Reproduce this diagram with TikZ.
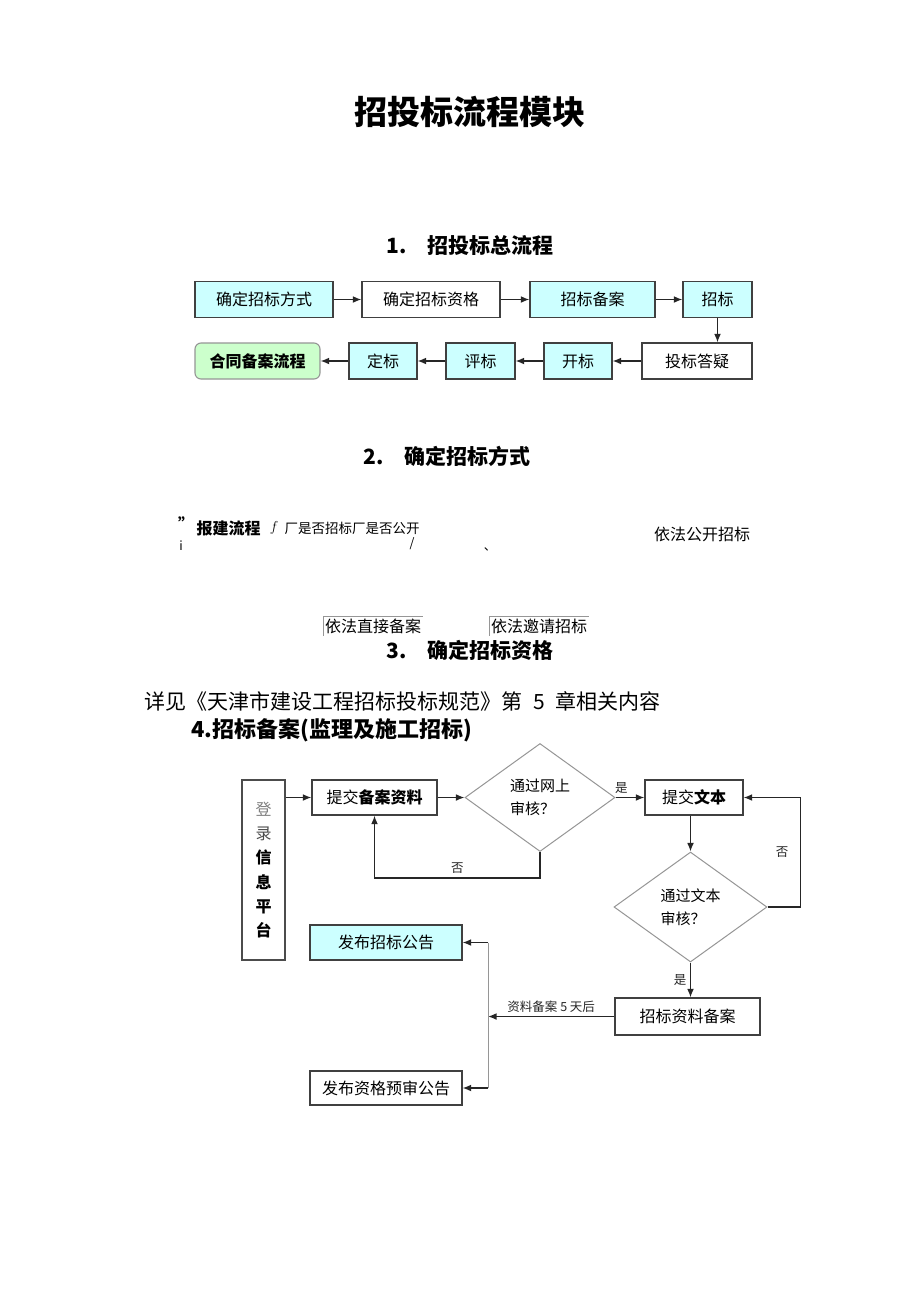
\documentclass[tikz,border=0pt]{standalone}
\usepackage{fontspec}
\setmainfont{Noto Sans CJK SC}
\usetikzlibrary{arrows.meta,positioning,shapes.geometric}
\definecolor{boxcyan}{RGB}{204,255,255}
\definecolor{boxgreen}{RGB}{204,255,204}
\definecolor{linegray}{RGB}{150,150,150}

\begin{document}
\begin{tikzpicture}[x=1pt,y=-1pt,
	box/.style={rectangle,draw=black!75,line width=1.1pt,minimum height=36pt,inner sep=0pt,font=\fontsize{16}{19}\selectfont},
	cyanbox/.style={box,fill=boxcyan},
	decision/.style={diamond,draw=linegray,line width=1pt,inner sep=0pt,align=left,font=\fontsize{15}{23}\selectfont},
	arr/.style={-{Latex[length=3mm,width=2.4mm]},line width=1.5pt,black!85},
	head/.style={font=\fontsize{21}{25}\selectfont\bfseries},
	small/.style={font=\fontsize{12.5}{14}\selectfont}]
	\fill[white] (0,0) rectangle (920,1302);
	\useasboundingbox (0,0) rectangle (920,1302);

	\node[font=\fontsize{33}{38}\selectfont\bfseries] (title) at (470,112) {招投标流程模块};

	% 1. overall flow
	\node[head] (sec1) at (470,245) {1.\hspace{1em}招投标总流程};
	\begin{scope}[every node/.style={minimum height=37pt}]
		\node[cyanbox,minimum width=138pt] (fangshi) at (264,299.5) {确定招标方式};
		\node[box,minimum width=138pt] (zige) at (431,299.5) {确定招标资格};
		\node[cyanbox,minimum width=125pt] (beian) at (592.5,299.5) {招标备案};
		\node[cyanbox,minimum width=69pt] (zhaobiao) at (717.5,299.5) {招标};
	\end{scope}
	\begin{scope}[every node/.style={minimum height=35pt}]
		\node[box,rounded corners=6pt,fill=boxgreen,draw=linegray,minimum width=125pt,font=\fontsize{16}{19}\selectfont\bfseries] (hetong) at (257.5,361) {合同备案流程};
		\node[cyanbox,minimum width=68pt] (dingbiao) at (383,361) {定标};
		\node[cyanbox,minimum width=69pt] (pingbiao) at (480.5,361) {评标};
		\node[cyanbox,minimum width=68pt] (kaibiao) at (578,361) {开标};
		\node[box,minimum width=110pt] (dayi) at (697,361) {投标答疑};
	\end{scope}
	\draw[arr] (fangshi) -- (zige);
	\draw[arr] (zige) -- (beian);
	\draw[arr] (beian) -- (zhaobiao);
	\draw[arr] (zhaobiao.south) -- (zhaobiao.south |- dayi.north);
	\draw[arr] (dayi) -- (kaibiao);
	\draw[arr] (kaibiao) -- (pingbiao);
	\draw[arr] (pingbiao) -- (dingbiao);
	\draw[arr] (dingbiao) -- (hetong);

	% 2. bidding method
	\node[head] (sec2) at (447,456) {2.\hspace{1em}确定招标方式};
	\node[font=\fontsize{16}{18}\selectfont\bfseries] (quote) at (186,524) {”};
	\node[anchor=west,font=\fontsize{16}{18}\selectfont\bfseries] (baojian) at (193,528) {报建流程};
	\node[font=\fontsize{15}{18}\selectfont] (fmark) at (274,528) {$f$};
	\node[anchor=west,font=\fontsize{13.5}{16}\selectfont] (shifou) at (281,528) {厂是否招标厂是否公开};
	\node[font=\fontsize{16}{18}\selectfont] (gongkai) at (702,534) {依法公开招标};
	\node[small] (mark1) at (181,546) {i};
	\node[small] (mark2) at (412,544) {/};
	\node[small] (mark3) at (490,549) {、};
	\node[anchor=west,inner sep=2pt,font=\fontsize{16}{18}\selectfont] (zhijie) at (323,626) {依法直接备案};
	\node[anchor=west,inner sep=2pt,font=\fontsize{16}{18}\selectfont] (yaoqing) at (489,626) {依法邀请招标};
	\draw[linegray] (zhijie.south west) |- (zhijie.north east);
	\draw[linegray] (yaoqing.south west) |- (yaoqing.north east);

	% 3. qualification
	\node[head] (sec3) at (470,650) {3.\hspace{1em}确定招标资格};
	\node[anchor=west,font=\fontsize{21}{25}\selectfont] (xiangjian) at (141,701) {详见《天津市建设工程招标投标规范》第\hspace{0.5em}5\hspace{0.5em}章相关内容};

	% 4. filing
	\node[head,font=\fontsize{22}{25}\selectfont\bfseries,anchor=west] (sec4) at (188,730) {4.招标备案(监理及施工招标)};
	\node[box,draw=black!70,minimum width=43pt,minimum height=180pt,align=center,font=\fontsize{16}{24.2}\selectfont] (denglu) at (263.5,870) {{\color{gray}登}\\{\color{black!70}录}\\\textbf{信}\\\textbf{息}\\\textbf{平}\\\textbf{台}};
	\node[box,minimum width=125pt,minimum height=35pt] (tijiao) at (374.5,797.5) {提交\textbf{备案资料}};
	\node[decision,minimum width=150pt,minimum height=108pt] (wangshang) at (540,797.5) {通过网上\\审核？};
	\node[box,minimum width=98pt,minimum height=35pt] (wenben) at (694,797.5) {提交\textbf{文本}};
	\node[decision,minimum width=153pt,minimum height=110pt] (wbshenhe) at (690.5,907) {通过文本\\审核？};
	\node[box,minimum width=145pt,minimum height=37pt] (ziliao) at (687.5,1016.5) {招标资料备案};
	\node[cyanbox,minimum width=152pt,minimum height=35pt] (gonggao) at (386,942.5) {发布招标公告};
	\node[box,minimum width=152pt,minimum height=34pt] (yushen) at (386,1088) {发布资格预审公告};
	\coordinate (fenzhi) at (488,1016.5);

	\draw[arr] (denglu.east |- tijiao) -- (tijiao);
	\draw[arr] (tijiao) -- (wangshang);
	\draw[arr] (wangshang) -- node[pos=0.2,above,small] {是} (wenben);
	\draw[arr] (wangshang.south) -- ++(0,26) -| node[pos=0.25,above,small] {否} (tijiao.south);
	\draw[arr] (wbshenhe.north |- wenben.south) -- (wbshenhe.north);
	\draw[arr] (wbshenhe.east) -- ++(33,0) |- node[pos=0.25,left=8pt,small] {否} (wenben.east);
	\draw[arr] (wbshenhe.south) -- node[left,small] {是} (wbshenhe.south |- ziliao.north);
	\draw[arr] (ziliao) -- node[above,small] {资料备案 5 天后} (fenzhi);
	\draw[linegray,line width=0.8pt] (gonggao.east -| fenzhi) -- (yushen.east -| fenzhi);
	\draw[arr] (gonggao.east -| fenzhi) -- (gonggao.east);
	\draw[arr] (yushen.east -| fenzhi) -- (yushen.east);
\end{tikzpicture}
\end{document}
